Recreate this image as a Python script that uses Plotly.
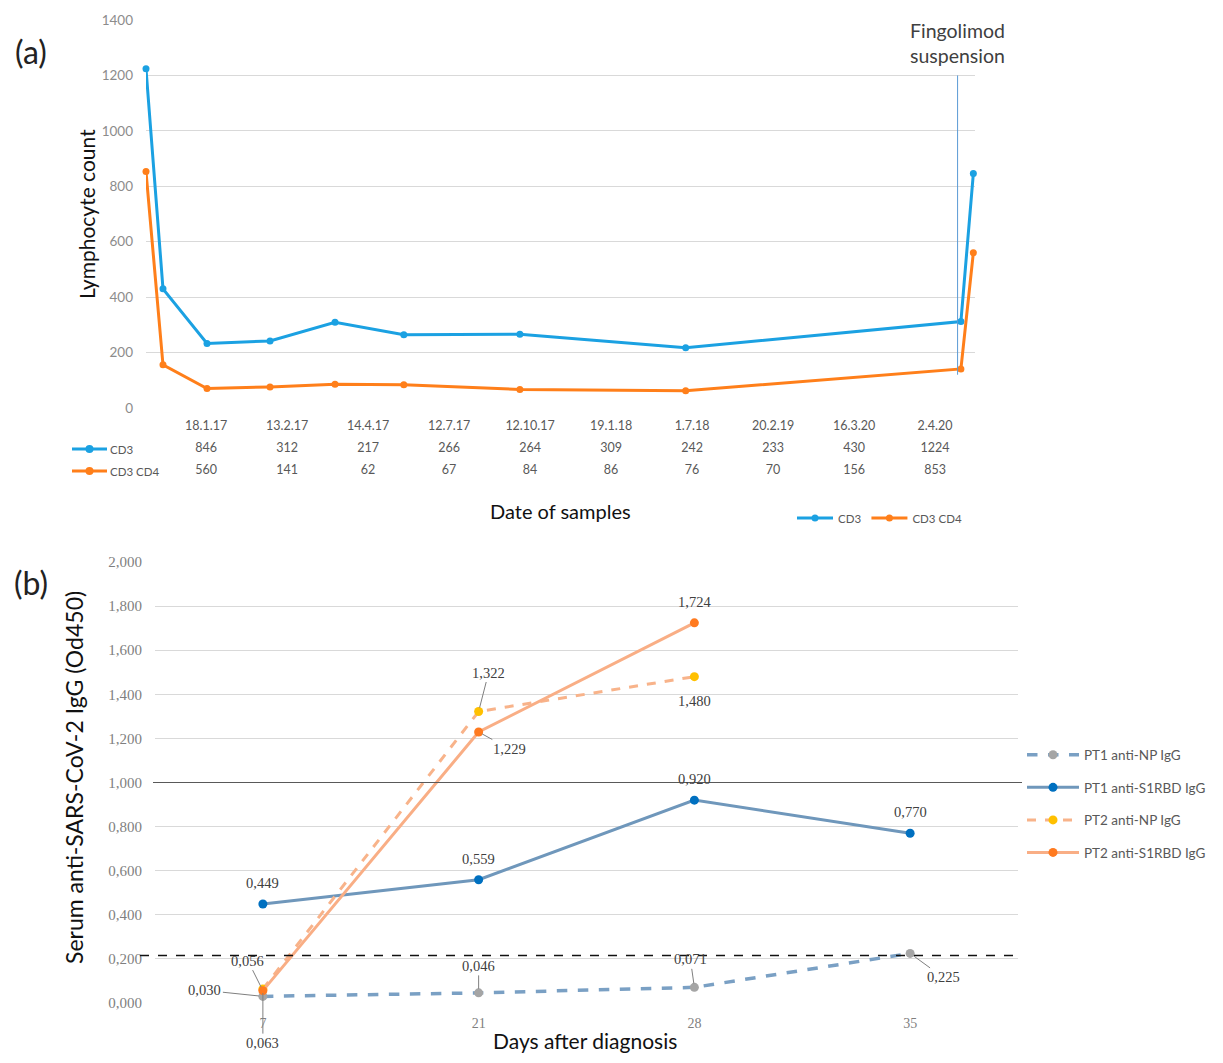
import plotly.graph_objects as go

# ---------------- Panel (a) data ----------------
dates = ["18.1.17", "13.2.17", "14.4.17", "12.7.17", "12.10.17",
         "19.1.18", "1.7.18", "20.2.19", "16.3.20", "2.4.20"]
cd3 = [846, 312, 217, 266, 264, 309, 242, 233, 430, 1224]
cd3cd4 = [560, 141, 62, 67, 84, 86, 76, 70, 156, 853]
# horizontal position of each sample along the (unlabelled) plot axis, 0-100
sample_pos = [99.8, 98.3, 65.1, 45.1, 31.1, 22.8, 14.96, 7.36, 2.05, 0.0]
fingolimod_pos = 97.9
fingolimod_span = [120, 1200]

# ---------------- Panel (b) data ----------------
days = ["7", "21", "28", "35"]
pt1_np = [0.030, 0.046, 0.071, 0.225]
pt1_s1 = [0.449, 0.559, 0.920, 0.770]
pt2_days = ["7", "21", "28"]
pt2_np = [0.063, 1.322, 1.480]
pt2_s1 = [0.056, 1.229, 1.724]
cutoff_np = 0.215
cutoff_s1 = 1.000

# page has an 8px body margin; figure is sized so the page is exactly 1223x1063
OFF = 8
W, H = 1223 - 2 * OFF, 1063 - 2 * OFF
def px(x):
    return (x - OFF) / W
def py(y):
    return 1 - (y - OFF) / H

BLUE_A = "#1ba1e2"
ORANGE_A = "#ff7f1a"
SANS = "Lato"
SERIF = "Liberation Serif"

fig = go.Figure()

# ---- panel (a) lines ----
fig.add_trace(go.Scatter(x=sample_pos, y=cd3, name="CD3", mode="lines+markers",
                         xaxis="x", yaxis="y", legend="legend", cliponaxis=False,
                         line=dict(color=BLUE_A, width=3), marker=dict(size=7, color=BLUE_A)))
fig.add_trace(go.Scatter(x=sample_pos, y=cd3cd4, name="CD3 CD4", mode="lines+markers",
                         xaxis="x", yaxis="y", legend="legend", cliponaxis=False,
                         line=dict(color=ORANGE_A, width=3), marker=dict(size=7, color=ORANGE_A)))

# ---- panel (a) data table ----
tfont = dict(family=SANS, size=12.5, color="#595959")
for row, vals in [("Date", dates), ("CD3", [str(v) for v in cd3]),
                  ("CD3 CD4", [str(v) for v in cd3cd4])]:
    fig.add_trace(go.Scatter(x=dates, y=[row] * len(dates), text=vals, mode="text",
                             xaxis="x2", yaxis="y2", showlegend=False,
                             textfont=tfont, hoverinfo="skip", cliponaxis=False))

# ---- panel (b) lines ----
series_b = [
    ("PT1 anti-NP IgG", days, pt1_np, "#7aa0c4", "dash", "#a5a5a5", 3.5),
    ("PT1 anti-S1RBD IgG", days, pt1_s1, "#6f97bb", "solid", "#0070c0", 3),
    ("PT2 anti-NP IgG", pt2_days, pt2_np, "#f8b38a", "dash", "#ffc000", 3),
    ("PT2 anti-S1RBD IgG", pt2_days, pt2_s1, "#f9ae85", "solid", "#ff7a1f", 3),
]
for i, (name, xs, ys, lc, dash, mc, lw) in enumerate(series_b):
    fig.add_trace(go.Scatter(x=xs, y=ys, name=name, mode="lines+markers",
                             xaxis="x3", yaxis="y3", legend="legend2", legendgroup=f"g{i}",
                             cliponaxis=False,
                             line=dict(color=lc, width=lw, dash=dash),
                             marker=dict(size=9, color=mc)))

shapes = []
# Fingolimod suspension marker line
shapes.append(dict(type="line", xref="x", yref="y", x0=fingolimod_pos, x1=fingolimod_pos,
                   y0=fingolimod_span[0], y1=fingolimod_span[1],
                   line=dict(color="#5b9bd5", width=1)))
# threshold lines
shapes.append(dict(type="line", xref="paper", yref="y3", x0=px(153), x1=px(1022),
                   y0=cutoff_s1, y1=cutoff_s1, line=dict(color="#595959", width=1.2)))
shapes.append(dict(type="line", xref="paper", yref="y3", x0=px(140), x1=px(1015),
                   y0=cutoff_np, y1=cutoff_np, line=dict(color="#111111", width=1.5, dash="dash")))
# table row keys
for idx, col in [(1, BLUE_A), (2, ORANGE_A)]:
    shapes.append(dict(type="line", xref="paper", yref="y2", x0=px(72), x1=px(107),
                       y0=idx, y1=idx, line=dict(color=col, width=3)))
    shapes.append(dict(type="circle", xref="paper", yref="y2", x0=px(85.5), x1=px(93.5),
                       y0=idx - 0.18, y1=idx + 0.18, fillcolor=col, line=dict(width=0)))

def note(text, x, y, size, color="#111", **kw):
    d = dict(text=text, x=px(x), y=py(y), xref="paper", yref="paper", showarrow=False,
             xanchor="center", yanchor="middle", font=dict(family=SANS, size=size, color=color))
    d.update(kw)
    return d

ann = []
ann.append(note("(a)", 31, 52, 32, "#222"))
ann.append(note("(b)", 31, 582, 32, "#222"))
ann.append(note("Lymphocyte count", 86, 214, 21, textangle=-90))
ann.append(note("Fingolimod<br>suspension", 957, 43, 19.5, "#404040"))
ann.append(note("Date of samples", 560, 511, 20))
ann.append(note("Serum anti-SARS-CoV-2 IgG (Od450)", 74, 778, 23, textangle=-90))
ann.append(note("Days after diagnosis", 585, 1040, 21))
for idx, lab in [(1, "CD3"), (2, "CD3 CD4")]:
    ann.append(dict(text=lab, x=px(108), y=idx, xref="paper", yref="y2", xanchor="left",
                    yanchor="middle", showarrow=False,
                    font=dict(family=SANS, size=11.5, color="#595959")))

# data labels (panel b)
lab_font = dict(family=SERIF, size=14.5, color="#404040")
label_style = {
    "PT1 anti-NP IgG": [("arrow", -58, -6), ("arrow", 0, -27), ("arrow", -4, -28), ("arrow", 33, 24)],
    "PT1 anti-S1RBD IgG": [("shift", 21), ("shift", 21), ("shift", 21), ("shift", 21)],
    "PT2 anti-NP IgG": [("arrow", 0, 54), ("arrow", 10, -39), ("shift", -24)],
    "PT2 anti-S1RBD IgG": [("arrow", -15, -30), ("arrow", 31, 17), ("shift", 21)],
}
for name, xs, ys, *_ in series_b:
    for xv, yv, st in zip(xs, ys, label_style[name]):
        txt = f"{yv:.3f}".replace(".", ",")
        xi = days.index(xv)
        if st[0] == "shift":
            ann.append(dict(text=txt, x=xi, y=yv, xref="x3", yref="y3", showarrow=False,
                            xanchor="center", yanchor="middle", yshift=st[1], font=lab_font))
        else:
            ann.append(dict(text=txt, x=xi, y=yv, xref="x3", yref="y3", showarrow=True,
                            arrowhead=0, arrowwidth=1, arrowcolor="#7f7f7f", standoff=4,
                            ax=st[1], ay=st[2], font=lab_font))

fig.update_layout(
    width=W, height=H, margin=dict(l=0, r=0, t=0, b=0, autoexpand=False),
    paper_bgcolor="white", plot_bgcolor="white",
    separators=",.",
    shapes=shapes, annotations=ann,
    xaxis=dict(domain=[px(146), px(975)], range=[0, 100], visible=False, anchor="y"),
    yaxis=dict(domain=[py(408), py(20)], range=[0, 1400], dtick=200, anchor="x",
               showgrid=True, gridcolor="#d9d9d9", gridwidth=1, zeroline=False, showline=False,
               ticks="", ticklabelstandoff=12,
               tickfont=dict(family=SANS, size=13.5, color="#8c8c8c")),
    xaxis2=dict(domain=[px(146), px(975)], type="category", categoryarray=dates,
                categoryorder="array", range=[-0.742, 9.493], visible=False, anchor="y2"),
    yaxis2=dict(domain=[py(482), py(416)], type="category",
                categoryarray=["Date", "CD3", "CD3 CD4"], categoryorder="array",
                range=[2.5, -0.5], visible=False, anchor="x2"),
    xaxis3=dict(domain=[px(155), px(1018)], type="category", categoryarray=days,
                categoryorder="array", range=[-0.5, 3.5], anchor="y3",
                showgrid=False, showline=False, zeroline=False, ticks="", ticklabelstandoff=10,
                tickfont=dict(family=SERIF, size=14, color="#7f7f7f")),
    yaxis3=dict(domain=[py(1003), py(562)], range=[0, 2], dtick=0.2, tickformat=".3f",
                anchor="x3", showgrid=True, gridcolor="#d9d9d9", zeroline=False, showline=False,
                ticks="", ticklabelstandoff=12,
                tickfont=dict(family=SERIF, size=15, color="#7f7f7f")),
    legend=dict(orientation="h", x=px(792), y=py(518), xanchor="left", yanchor="middle",
                font=dict(family=SANS, size=11.5, color="#595959"), itemwidth=36,
                bgcolor="rgba(0,0,0,0)"),
    legend2=dict(x=px(1022), y=py(804), xanchor="left", yanchor="middle",
                 font=dict(family=SANS, size=13.5, color="#595959"), itemwidth=52,
                 tracegroupgap=12, bgcolor="rgba(0,0,0,0)"),
    showlegend=True,
)

fig.write_html("out.html")
